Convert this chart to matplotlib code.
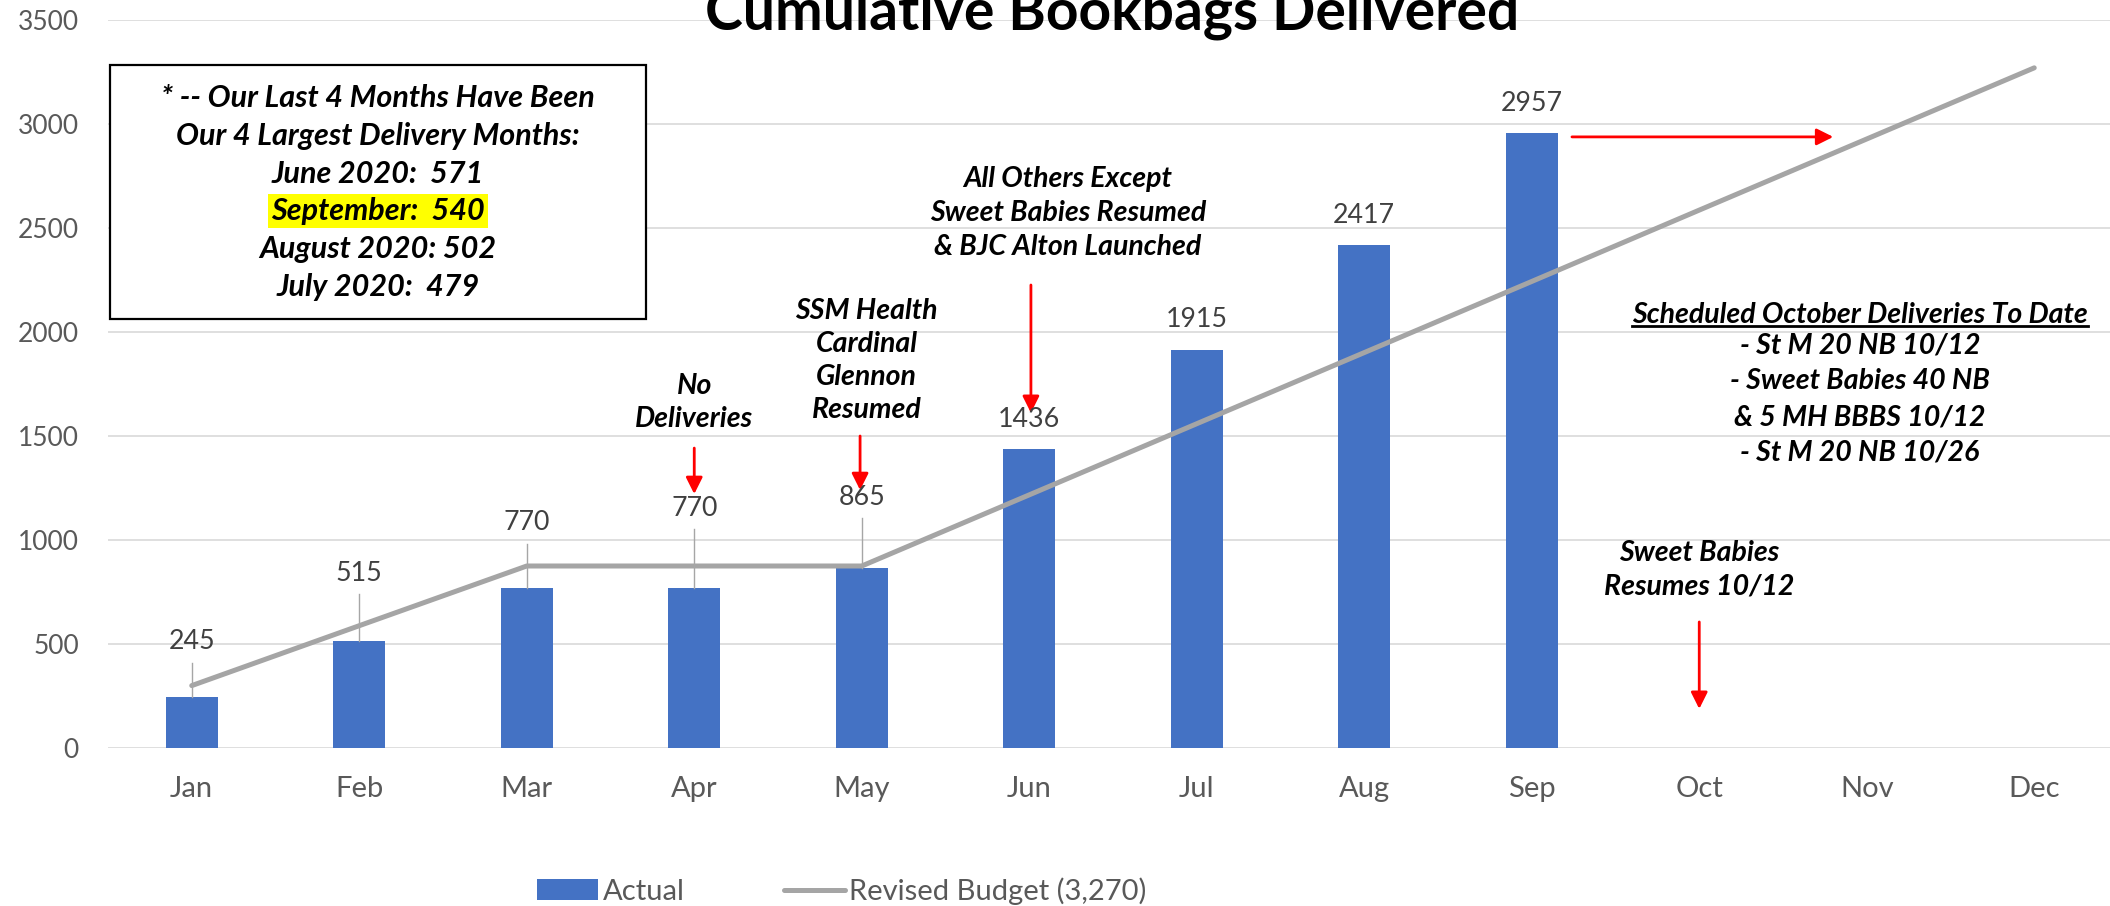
import matplotlib.pyplot as plt
from matplotlib.patches import Rectangle, Patch
from matplotlib.lines import Line2D

plt.rcParams['font.family'] = ['Lato', 'DejaVu Sans']

# data
months = ['Jan', 'Feb', 'Mar', 'Apr', 'May', 'Jun', 'Jul', 'Aug', 'Sep', 'Oct', 'Nov', 'Dec']
actual = [245, 515, 770, 770, 865, 1436, 1915, 2417, 2957]
budget = [300, 588, 875, 875, 875, 1217, 1559, 1901, 2243, 2586, 2928, 3270]

box_lines = ['* -- Our Last 4 Months Have Been', 'Our 4 Largest Delivery Months:',
             'June 2020:  571', 'September:  540', 'August 2020: 502', 'July 2020:  479']
october_title = 'Scheduled October Deliveries To Date'
october_lines = ['- St M 20 NB 10/12', '- Sweet Babies 40 NB', '& 5 MH BBBS 10/12', '- St M 20 NB 10/26']

# where Excel moved the first five data labels (y in data units)
lifted_label_y = [510, 838, 1083, 1151, 1204]

BLUE = '#4472C4'
GRAY = '#A5A5A5'
LABEL = '#404040'
TICK = '#595959'

fig = plt.figure(figsize=(21.1, 9.06), dpi=100)
ax = fig.add_axes([108 / 2110, 158 / 906, 2010 / 2110, 728 / 906])

x = list(range(len(months)))
ax.bar(x[:len(actual)], actual, width=0.31, color=BLUE, zorder=2)
ax.plot(x, budget, color=GRAY, lw=3.6, solid_capstyle='round', zorder=3)

ax.set_xlim(-0.5, 11.5)
ax.set_ylim(0, 3500)
ax.set_yticks(range(0, 3501, 500))
ax.set_xticks(x)
ax.set_xticklabels(months)
ax.grid(axis='y', color='#D9D9D9', lw=1.2, zorder=0)
ax.set_axisbelow(True)
for s in ax.spines.values():
    s.set_visible(False)
ax.tick_params(axis='both', length=0, labelcolor=TICK)
ax.tick_params(axis='y', pad=21, labelsize=19)
ax.tick_params(axis='x', pad=20, labelsize=21)

# data labels
for i, v in enumerate(actual):
    if i < len(lifted_label_y):
        ly = lifted_label_y[i]
        ax.text(i, ly, str(v), ha='center', va='center', fontsize=19.3, color=LABEL, zorder=4)
        ax.plot([i, i], [ly - 100, v], color='#A6A6A6', lw=1, zorder=4)
    else:
        ax.annotate(str(v), (i, v), xytext=(0, 21.5), textcoords='offset points',
                    ha='center', va='center', fontsize=19.3, color=LABEL, zorder=4)

note = dict(fontsize=20.5, fontweight='bold', fontstyle='italic', color='black',
            ha='center', va='center', zorder=6)
arrow = dict(arrowstyle='-|>', color='red', lw=2, mutation_scale=25, shrinkA=0, shrinkB=0)

# box at top left
ax.add_patch(Rectangle((-0.49, 2062), 3.2, 1222, facecolor='white', edgecolor='black',
                       lw=1.6, zorder=5))
box_note = dict(note, fontsize=22)
box_y = [3125, 2942, 2760, 2582, 2399, 2216]
for txt, yy in zip(box_lines, box_y):
    if txt.startswith('September'):
        ax.text(1.11, yy, txt, bbox=dict(facecolor='#FFFF00', edgecolor='none',
                                         boxstyle='square,pad=0.1'), **box_note)
    else:
        ax.text(1.11, yy, txt, **box_note)

# notes with arrows
ax.text(5.23, 2572, 'All Others Except\nSweet Babies Resumed\n& BJC Alton Launched',
        linespacing=1.38, **note)
ax.annotate('', xy=(5.01, 1611), xytext=(5.01, 2226), arrowprops=arrow)

ax.text(4.03, 1863, 'SSM Health\nCardinal\nGlennon\nResumed', linespacing=1.34, **note)
ax.annotate('', xy=(3.99, 1240), xytext=(3.99, 1500), arrowprops=arrow)

ax.text(3.0, 1661, 'No\nDeliveries', linespacing=1.36, **note)
ax.annotate('', xy=(3.0, 1221), xytext=(3.0, 1442), arrowprops=arrow)

ax.annotate('', xy=(9.80, 2938), xytext=(8.24, 2938), arrowprops=arrow)

t_oct = ax.text(9.96, 2082, october_title, **note)
for txt, yy in zip(october_lines, [1933, 1764, 1591, 1423]):
    ax.text(9.96, yy, txt, **note)

ax.text(9.0, 858, 'Sweet Babies\nResumes 10/12', linespacing=1.36, **note)
ax.annotate('', xy=(9.0, 188), xytext=(9.0, 606), arrowprops=arrow)

fig.text(1112 / 2110, 1 - 29 / 906, 'Cumulative Bookbags Delivered', ha='center',
         va='baseline', fontsize=41, fontweight='bold')

handles = [Patch(facecolor=BLUE, edgecolor='none'),
           Line2D([], [], color=GRAY, lw=3.6, solid_capstyle='round')]
fig.legend(handles, ['Actual', 'Revised Budget (3,270)'], loc='center',
           bbox_to_anchor=(842 / 2110, 15 / 906), ncol=2, frameon=False,
           fontsize=21, labelcolor=TICK, handlelength=2.1, handletextpad=0.15,
           columnspacing=3.4)

# underline the October heading
fig.canvas.draw()
bb = t_oct.get_window_extent().transformed(fig.transFigure.inverted())
fig.add_artist(Line2D([bb.x0, bb.x1], [bb.y0 + 0.002, bb.y0 + 0.002],
                      transform=fig.transFigure, color='black', lw=2))

fig.savefig('out.png', dpi=100)
